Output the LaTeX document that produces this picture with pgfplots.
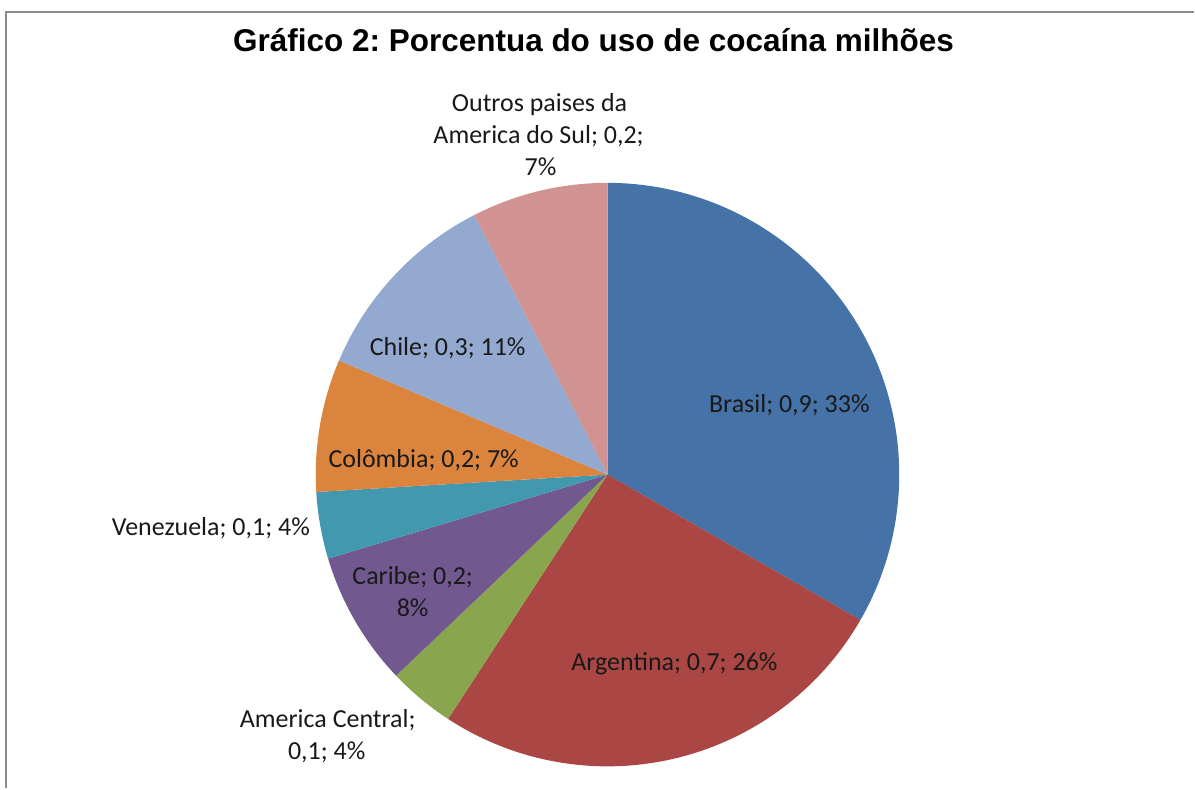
\documentclass[border=0pt]{standalone}
\usepackage{fontspec}
\setmainfont{Carlito}
\newfontfamily\titlefont{Liberation Sans}
\usepackage{pgfplots}
\pgfplotsset{compat=1.18}
\frenchspacing
\definecolor{cBrasil}{HTML}{4572A7}
\definecolor{cArg}{HTML}{AA4643}
\definecolor{cAmC}{HTML}{89A54E}
\definecolor{cCar}{HTML}{71588F}
\definecolor{cVen}{HTML}{4198AF}
\definecolor{cCol}{HTML}{DB843D}
\definecolor{cChi}{HTML}{93A9CF}
\definecolor{cOut}{HTML}{D19392}
\tikzset{lbl/.style={anchor=base, font=\fontsize{26}{32}\selectfont, text=black!90, inner sep=0pt}}
\begin{document}
\begin{tikzpicture}
\begin{axis}[
  width=1195pt, height=789pt, scale only axis,
  xmin=0, xmax=1195, ymin=0, ymax=789,
  hide axis, clip=false,
]
\path (axis cs:0,0) rectangle (axis cs:1195,789);
% shares (%): Brasil 33.3, Argentina 25.9, America Central 3.7, Caribe 7.45,
% Venezuela 3.7, Colombia 7.35, Chile 11.05, Outros 7.55  (clockwise from 90 deg)
\addplot[fill=cBrasil, draw=none, domain=-29.88:90, samples=90, variable=\t] ({608+292*cos(t)},{314+292*sin(t)}) -- (axis cs:608,314) -- cycle;
\addplot[fill=cArg, draw=none, domain=-123.12:-29.88, samples=80, variable=\t] ({608+292*cos(t)},{314+292*sin(t)}) -- (axis cs:608,314) -- cycle;
\addplot[fill=cAmC, draw=none, domain=-136.44:-123.12, samples=20, variable=\t] ({608+292*cos(t)},{314+292*sin(t)}) -- (axis cs:608,314) -- cycle;
\addplot[fill=cCar, draw=none, domain=-163.26:-136.44, samples=30, variable=\t] ({608+292*cos(t)},{314+292*sin(t)}) -- (axis cs:608,314) -- cycle;
\addplot[fill=cVen, draw=none, domain=-176.58:-163.26, samples=20, variable=\t] ({608+292*cos(t)},{314+292*sin(t)}) -- (axis cs:608,314) -- cycle;
\addplot[fill=cCol, draw=none, domain=-203.04:-176.58, samples=30, variable=\t] ({608+292*cos(t)},{314+292*sin(t)}) -- (axis cs:608,314) -- cycle;
\addplot[fill=cChi, draw=none, domain=-242.82:-203.04, samples=40, variable=\t] ({608+292*cos(t)},{314+292*sin(t)}) -- (axis cs:608,314) -- cycle;
\addplot[fill=cOut, draw=none, domain=-270:-242.82, samples=30, variable=\t] ({608+292*cos(t)},{314+292*sin(t)}) -- (axis cs:608,314) -- cycle;
% frame
\draw[color=black!45, line width=2pt] (axis cs:6,0) -- (axis cs:6,777) -- (axis cs:1195,777);
% title
\node[anchor=base, inner sep=0pt, font=\titlefont\bfseries\fontsize{31.5}{36}\selectfont, text=black] at (axis cs:594,737) {Gráfico 2: Porcentua do uso de cocaína milhões};
% data labels
\node[lbl] at (axis cs:540,677) {Outros paises da};
\node[lbl] at (axis cs:539,645) {America do Sul; 0,2;};
\node[lbl] at (axis cs:541,613) {7\%};
\node[lbl] at (axis cs:448,433) {Chile; 0,3; 11\%};
\node[lbl] at (axis cs:790,376) {Brasil; 0,9; 33\%};
\node[lbl] at (axis cs:424,321) {Colômbia; 0,2; 7\%};
\node[lbl] at (axis cs:211,253) {Venezuela; 0,1; 4\%};
\node[lbl] at (axis cs:413,204) {Caribe; 0,2;};
\node[lbl] at (axis cs:413,172) {8\%};
\node[lbl] at (axis cs:675,118) {Argentina; 0,7; 26\%};
\node[lbl] at (axis cs:328,61) {America Central;};
\node[lbl] at (axis cs:327,29) {0,1; 4\%};
\end{axis}
\end{tikzpicture}
\end{document}
